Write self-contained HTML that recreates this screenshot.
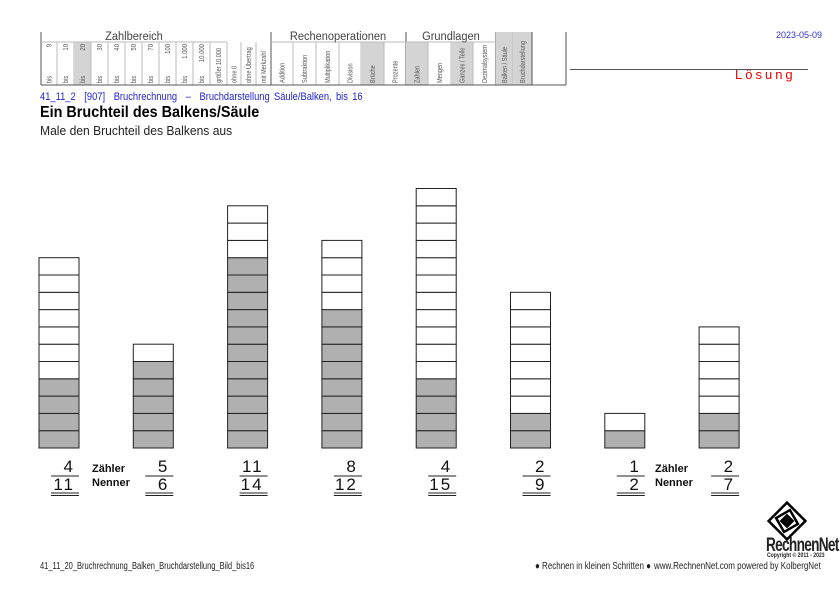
<!DOCTYPE html>
<html><head><meta charset="utf-8">
<style>
body{margin:0;background:#fff;font-family:"Liberation Sans",sans-serif;}
#wrap{position:relative;width:840px;height:594px;overflow:hidden;}
.t{position:absolute;white-space:nowrap;transform-origin:left top;}
</style></head>
<body>
<div id="wrap">
<svg id="hdr" width="840" height="594" style="position:absolute;left:0;top:0"></svg>
<div class="t" style="left:776px;top:30px;font-size:9px;color:#3333cc">2023-05-09</div>
<div style="position:absolute;left:570px;top:69px;width:238px;height:1px;background:#555"></div>
<div class="t" style="left:735px;top:67px;font-size:13px;color:#e00;letter-spacing:3px">Lösung</div>
<div class="t" style="left:40px;top:91px;font-size:11px;color:#2222cc;word-spacing:2px;transform:scaleX(0.85)">41_11_2 &nbsp;[907] &nbsp;Bruchrechnung &nbsp;– &nbsp;Bruchdarstellung Säule/Balken, bis 16</div>
<div class="t" style="left:40px;top:104px;font-size:16px;font-weight:bold;color:#000;transform:scaleX(0.9)">Ein Bruchteil des Balkens/Säule</div>
<div class="t" style="left:40px;top:123px;font-size:13px;color:#222;transform:scaleX(0.93)">Male den Bruchteil des Balkens aus</div>
<svg id="chart" width="840" height="594" style="position:absolute;left:0;top:0"></svg>
<div class="t" style="left:40px;top:561px;font-size:10px;color:#222;transform:scaleX(0.75)">41_11_20_Bruchrechnung_Balken_Bruchdarstellung_Bild_bis16</div>
<div class="t" style="left:535px;top:561px;font-size:10px;color:#222;transform:scaleX(0.8)">● Rechnen in kleinen Schritten ●</div>
<div class="t" style="left:654px;top:561px;font-size:10px;color:#222;transform:scaleX(0.8)">www.RechnenNet.com powered by KolbergNet</div>
<svg width="50" height="42" style="position:absolute;left:762px;top:500px">
<g transform="translate(25,21) rotate(45)" fill="none" stroke="#000" stroke-width="2.5">
<rect x="-13" y="-13" width="26" height="26"/><rect x="-8" y="-8" width="16" height="16" transform="rotate(15)"/><rect x="-4" y="-4" width="8" height="8" fill="#000"/></g></svg>
<div class="t" style="left:766px;top:535px;font-size:19px;font-weight:bold;color:#222;letter-spacing:-1px;transform:scaleX(0.72)">RechnenNet</div>
<div class="t" style="left:767px;top:553px;font-size:6px;font-weight:bold;color:#222;transform:scaleX(0.85)">Copyright © 2011 - 2023</div>
</div>
<script>
(function(){
const ns="http://www.w3.org/2000/svg",s=document.getElementById('hdr');
const xs=[41,57,74,91,108,125,142,159,176,193,210,227,241,256,271,293,316,339,361,384,406,428,451,473,496,513,532,551];
const labels=["9","10","20","30","40","50","70","100","1.000","10.000","","ohne 0","ohne Übertrag","mit Merkzahl","Addition","Subtraktion","Multiplikation","Division","Brüche","Prozente","Zahlen","Mengen","Ganzes / Teile","Dezimalsystem","Balken / Säule","Bruchdarstellung"];
const gray=[2,18,20,22,24,25];
function el(t,a,txt){const e=document.createElementNS(ns,t);for(const k in a)e.setAttribute(k,a[k]);if(txt!==undefined)e.textContent=txt;s.appendChild(e);return e;}
for(let i=0;i<labels.length;i++){
 const x0=xs[i],x1=xs[i+1],g=gray.includes(i);
 const top=(i>=24)?32:42;
 if(g){const r=el('rect',{x:x0,y:top,width:x1-x0,height:85-top,fill:'#d4d4d4'});}
 const cx=(x0+x1)/2+2.5;
 if(i<11){
  if(i<10){const t=el('text',{x:0,y:0,transform:`translate(${cx},44) rotate(-90) scale(0.85,1)`,'font-size':7,'text-anchor':'end',fill:'#555'},labels[i]);}
  const b=el('text',{x:0,y:0,transform:`translate(${cx},83) rotate(-90) scale(0.8,1)`,'font-size':7,fill:'#555'},i<10?'bis':'größer 10.000');
 } else {
  const t=el('text',{x:0,y:0,transform:`translate(${cx},83) rotate(-90) scale(0.8,1)`,'font-size':7,fill:'#555'},labels[i]);
 }
 const ln=el('line',{x1:x1,y1:(i>=23||i==13||i==19)?32:42,x2:x1,y2:85,stroke:(i==13||i==19||i==23||i==25)?'#555':'#bbb','stroke-width':1});
 
}
el('line',{x1:41,y1:32,x2:41,y2:85,stroke:'#555'});
el('line',{x1:566,y1:32,x2:566,y2:85,stroke:'#555'});
el('line',{x1:41,y1:85,x2:566,y2:85,stroke:'#555'});
el('line',{x1:41,y1:42,x2:227,y2:42,stroke:'#bbb'});
el('line',{x1:271,y1:42,x2:496,y2:42,stroke:'#bbb'});
const grp=[["Zahlbereich",134],["Rechenoperationen",338],["Grundlagen",451]];
for(const [t,x] of grp){const e=el('text',{x:x,y:40,'font-size':12,'text-anchor':'middle',fill:'#444',transform:`translate(${x*0.08},0) scale(0.92,1)`},t);}
})();
</script>
<script>
const numerators=[4,5,11,8,4,2,1,2];
const denominators=[11,6,14,12,15,9,2,7];
(function(){
const ns="http://www.w3.org/2000/svg",s=document.getElementById('chart');
const x0=39,step=94.3,bw=40,ch=17.3,base=448;
const xPos=i=>x0+i*step;
const yPos=k=>base-k*ch;
function el(t,a,txt){const e=document.createElementNS(ns,t);for(const k in a)e.setAttribute(k,a[k]);if(txt!==undefined)e.textContent=txt;s.appendChild(e);return e;}
numerators.forEach((n,i)=>{
 const d=denominators[i],x=xPos(i);
 for(let k=0;k<d;k++){
  const r=el('rect',{x:x,y:yPos(k+1),width:bw,height:ch,fill:k<n?'#b0b0b0':'#fff',stroke:'#222','stroke-width':1});
  
  
 }
 const nt=el('text',{x:x+bw-4,y:472,'font-size':17,'text-anchor':'end','letter-spacing':2,fill:'#111'},String(n));
 
 
 el('line',{x1:x+12,y1:476,x2:x+bw,y2:476,stroke:'#222','stroke-width':1});
 const dt=el('text',{x:x+bw-4,y:490,'font-size':17,'text-anchor':'end','letter-spacing':2,fill:'#111'},String(d));
 
 
 el('line',{x1:x+12,y1:493,x2:x+bw,y2:493,stroke:'#222','stroke-width':1});
 el('line',{x1:x+12,y1:495.5,x2:x+bw,y2:495.5,stroke:'#222','stroke-width':1});
});
[[92],[655]].forEach(([x])=>{
 const a=el('text',{x:x,y:472,'font-size':11,'font-weight':'bold',fill:'#111'},'Zähler');
 
 
 const b=el('text',{x:x,y:486,'font-size':11,'font-weight':'bold',fill:'#111'},'Nenner');
 
 
});
})();
</script>
</body></html>
